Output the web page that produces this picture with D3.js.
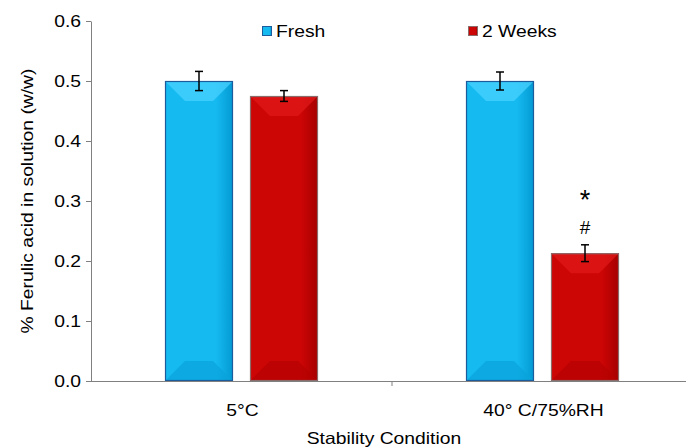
<!DOCTYPE html>
<html><head><meta charset="utf-8">
<script src="https://cdn.jsdelivr.net/npm/d3@7"></script>
<style>body{margin:0;background:#fff}svg{display:block;font-family:"Liberation Sans",Arial,sans-serif}</style>
</head><body>
<svg id="c" width="686" height="448"></svg>
<script>
const categories = ["5°C", "40° C/75%RH"];
const seriesNames = ["Fresh", "2 Weeks"];
const freshValues = [0.500, 0.500];
const weeksValues = [0.475, 0.213];
const freshErrors = [0.016, 0.015];
const weeksErrors = [0.009, 0.014];
const yTicks = [0, 0.1, 0.2, 0.3, 0.4, 0.5, 0.6];
const annotations = [{cat: "40° C/75%RH", series: "2 Weeks", text: "*", value: 0.287}, {cat: "40° C/75%RH", series: "2 Weeks", text: "#", value: 0.245}];

const data = [];
categories.forEach((c, i) => {
  data.push({cat: c, series: "Fresh", v: freshValues[i], e: freshErrors[i]});
  data.push({cat: c, series: "2 Weeks", v: weeksValues[i], e: weeksErrors[i]});
});

const FS = 16.5, STRETCH = 1.17;
function stretch(sel) {
  sel.each(function() {
    const w = this.getComputedTextLength();
    d3.select(this).attr("textLength", w * STRETCH).attr("lengthAdjust", "spacingAndGlyphs");
  });
}

const svg = d3.select("#c");
const y = d3.scaleLinear().domain([0, 0.6]).range([381, 21]);
const x = d3.scaleBand().domain(categories).range([91, 693]).paddingInner(0).paddingOuter(0);
const xs = d3.scaleBand().domain(seriesNames).range([74, 227]).paddingInner(0.2).paddingOuter(0);

const pal = {
  "Fresh": {main: "#15baf1", dark: "#0499d2", light: "#48d2ff", bottom: "#0aa3dc", stroke: "#1d5c9c"},
  "2 Weeks": {main: "#cc0505", dark: "#a50000", light: "#e01818", bottom: "#b50202", stroke: "#8c6b6b"}
};
const defs = svg.append("defs");
seriesNames.forEach((s, i) => {
  const g = defs.append("linearGradient").attr("id", "g" + i).attr("x1", "0").attr("x2", "1").attr("y1", "0").attr("y2", "0");
  g.append("stop").attr("offset", "0").attr("stop-color", pal[s].main);
  g.append("stop").attr("offset", "0.75").attr("stop-color", pal[s].main);
  g.append("stop").attr("offset", "1").attr("stop-color", pal[s].dark);
});

// y axis
const yAxis = d3.axisLeft(y).tickValues(yTicks).tickFormat(d3.format(".1f")).tickSize(5).tickSizeOuter(0).tickPadding(5);
const ya = svg.append("g").attr("transform", "translate(91,0)").call(yAxis);
ya.selectAll("path,line").attr("stroke", "#808080");
ya.selectAll("text").attr("font-size", FS).attr("fill", "#000").attr("font-family", "Liberation Sans, Arial, sans-serif").call(stretch);

// bars
const bev = 20;
const bars = svg.append("g").selectAll("g").data(data).join("g");
bars.each(function(d) {
  const g = d3.select(this);
  const x0 = x(d.cat) + xs(d.series), w = xs.bandwidth();
  const yt = y(d.v), yb = y(0), h = yb - yt;
  const p = pal[d.series];
  const gi = seriesNames.indexOf(d.series);
  g.append("rect").attr("x", x0).attr("y", yt).attr("width", w).attr("height", h).attr("fill", `url(#g${gi})`);
  const b = Math.min(bev, h / 2);
  g.append("path").attr("d", `M${x0},${yt}L${x0 + w},${yt}L${x0 + w - b},${yt + b}L${x0 + b},${yt + b}Z`).attr("fill", p.light).attr("opacity", 0.75);
  g.append("path").attr("d", `M${x0},${yb}L${x0 + w},${yb}L${x0 + w - b},${yb - b}L${x0 + b},${yb - b}Z`).attr("fill", p.bottom).attr("opacity", 0.7);
  g.append("rect").attr("x", x0 + 0.5).attr("y", yt + 0.5).attr("width", w - 1).attr("height", h - 1).attr("fill", "none").attr("stroke", p.stroke).attr("stroke-width", 1.2);
  const cx = x0 + w / 2, e1 = y(d.v + d.e), e2 = y(d.v - d.e);
  g.append("line").attr("x1", cx).attr("x2", cx).attr("y1", e1).attr("y2", e2).attr("stroke", "#000").attr("stroke-width", 1.5);
  g.append("line").attr("x1", cx - 4).attr("x2", cx + 4).attr("y1", e1).attr("y2", e1).attr("stroke", "#000").attr("stroke-width", 1.5);
  g.append("line").attr("x1", cx - 4).attr("x2", cx + 4).attr("y1", e2).attr("y2", e2).attr("stroke", "#000").attr("stroke-width", 1.5);
});

// x axis
svg.append("line").attr("x1", 91).attr("x2", 686).attr("y1", 381.5).attr("y2", 381.5).attr("stroke", "#808080");
categories.slice(1).forEach(c => {
  svg.append("line").attr("x1", x(c)).attr("x2", x(c)).attr("y1", 381).attr("y2", 386).attr("stroke", "#808080");
});
svg.append("g").selectAll("text").data(categories).join("text")
  .attr("x", d => x(d) + x.bandwidth() / 2 + 1).attr("y", 416).attr("text-anchor", "middle")
  .attr("font-size", FS).attr("fill", "#000").text(d => d).call(stretch);

// annotations
svg.append("g").selectAll("text").data(annotations).join("text")
  .attr("x", d => x(d.cat) + xs(d.series) + xs.bandwidth() / 2)
  .attr("y", d => y(d.value)).attr("text-anchor", "middle")
  .attr("font-size", d => d.text === "*" ? 27 : 19).attr("fill", "#000").text(d => d.text);

// axis titles
svg.append("text").attr("x", 384).attr("y", 444).attr("text-anchor", "middle").attr("font-size", FS).attr("fill", "#000").text("Stability Condition").call(stretch);
svg.append("text").attr("transform", "translate(33,201) rotate(-90)").attr("text-anchor", "middle").attr("font-size", FS).attr("fill", "#000").text("% Ferulic acid in solution (w/w)").call(stretch);

// legend
const legendX = [262, 468];
const lg = svg.append("g").selectAll("g").data(seriesNames).join("g").attr("transform", (d, i) => `translate(${legendX[i]},26)`);
lg.append("rect").attr("x", 0.5).attr("y", 0.5).attr("width", 9).attr("height", 9).attr("fill", (d, i) => `url(#g${i})`).attr("stroke", d => pal[d].stroke).attr("stroke-width", 1);
lg.append("text").attr("x", 14).attr("y", 10.5).attr("font-size", FS).attr("fill", "#000").text(d => d).call(stretch);
</script>
</body></html>
